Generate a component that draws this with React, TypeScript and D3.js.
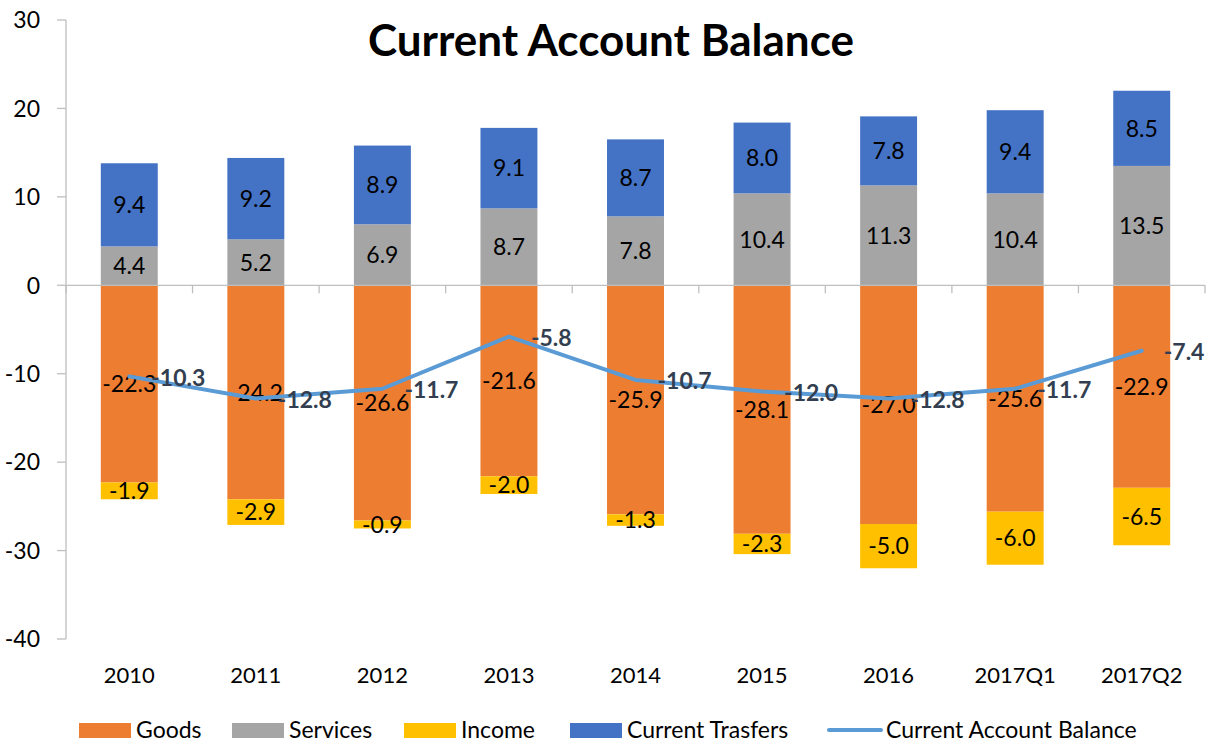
import React from 'react';
import * as d3 from 'd3';

const categories = ['2010', '2011', '2012', '2013', '2014', '2015', '2016', '2017Q1', '2017Q2'];
const goods = [-22.3, -24.2, -26.6, -21.6, -25.9, -28.1, -27.0, -25.6, -22.9];
const services = [4.4, 5.2, 6.9, 8.7, 7.8, 10.4, 11.3, 10.4, 13.5];
const income = [-1.9, -2.9, -0.9, -2.0, -1.3, -2.3, -5.0, -6.0, -6.5];
const transfers = [9.4, 9.2, 8.9, 9.1, 8.7, 8.0, 7.8, 9.4, 8.5];
const balance = [-10.3, -12.8, -11.7, -5.8, -10.7, -12.0, -12.8, -11.7, -7.4];
const yTicks = [-40, -30, -20, -10, 0, 10, 20, 30];

const FONT = 'Lato, "Open Sans", sans-serif';
const width = 1215;
const height = 742;
const margin = { top: 20, right: 10, bottom: 103, left: 66 };

const seriesDefs = [
  { key: 'Goods', values: goods, color: '#ED7D31' },
  { key: 'Services', values: services, color: '#A5A5A5' },
  { key: 'Income', values: income, color: '#FFC000' },
  { key: 'Current Trasfers', values: transfers, color: '#4472C4' },
];

export default function App() {
  const x = d3
    .scaleBand()
    .domain(categories)
    .range([margin.left, width - margin.right])
    .paddingInner(0.55)
    .paddingOuter(0.275);

  const y = d3
    .scaleLinear()
    .domain([-40, 30])
    .range([height - margin.bottom, margin.top]);

  // stack positives upward and negatives downward, in series order
  const segments: any[] = [];
  categories.forEach((c, i) => {
    let pos = 0;
    let neg = 0;
    seriesDefs.forEach(s => {
      const v = s.values[i];
      let y0, y1;
      if (v >= 0) {
        y0 = pos;
        y1 = pos + v;
        pos = y1;
      } else {
        y0 = neg;
        y1 = neg + v;
        neg = y1;
      }
      segments.push({ cat: c, v, y0, y1, color: s.color });
    });
  });

  const bw = x.bandwidth();
  const cx = (c: string) => (x(c) as number) + bw / 2;
  const step = x.step();
  const boundaries = categories.map((c, i) => margin.left + i * step).concat([width - margin.right]);

  const line = d3
    .line<number>()
    .x((d, i) => cx(categories[i]))
    .y(d => y(d));

  const legend = [
    { label: 'Goods', color: '#ED7D31', x: 79, type: 'rect' },
    { label: 'Services', color: '#A5A5A5', x: 232, type: 'rect' },
    { label: 'Income', color: '#FFC000', x: 404, type: 'rect' },
    { label: 'Current Trasfers', color: '#4472C4', x: 570, type: 'rect' },
    { label: 'Current Account Balance', color: '#5B9BD5', x: 829, type: 'line' },
  ];

  return (
    <svg
      width={width}
      height={height}
      style={{ position: 'absolute', left: 0, top: 0, background: '#fff' }}
      fontFamily={FONT}
    >
      {/* y axis */}
      <line x1={margin.left} x2={margin.left} y1={y(30)} y2={y(-40)} stroke="#BFBFBF" strokeWidth={1.3} />
      {yTicks.map(t => (
        <g key={t}>
          <line x1={margin.left - 9} x2={margin.left} y1={y(t)} y2={y(t)} stroke="#BFBFBF" strokeWidth={1.3} />
          <text x={40} y={y(t)} dy="0.36em" textAnchor="end" fontSize={23} fill="#000">
            {t}
          </text>
        </g>
      ))}

      {/* bars */}
      {segments.map((s, i) => (
        <rect
          key={i}
          x={x(s.cat)}
          width={bw}
          y={y(Math.max(s.y0, s.y1))}
          height={Math.abs(y(s.y0) - y(s.y1))}
          fill={s.color}
        />
      ))}

      {/* category axis at zero */}
      <line x1={margin.left} x2={width - margin.right} y1={y(0)} y2={y(0)} stroke="#BFBFBF" strokeWidth={1.3} />
      {boundaries.map((b, i) => (
        <line key={i} x1={b} x2={b} y1={y(0)} y2={y(0) + 8} stroke="#BFBFBF" strokeWidth={1.3} />
      ))}
      {categories.map(c => (
        <text key={c} x={cx(c)} y={675} dy="0.36em" textAnchor="middle" fontSize={22} fill="#000">
          {c}
        </text>
      ))}

      {/* bar labels */}
      {segments.map((s, i) => (
        <text
          key={i}
          x={cx(s.cat)}
          y={y((s.y0 + s.y1) / 2)}
          dy="0.36em"
          textAnchor="middle"
          fontSize={23}
          fill="#000"
        >
          {s.v.toFixed(1)}
        </text>
      ))}

      {/* balance line */}
      <path d={line(balance) as string} fill="none" stroke="#5B9BD5" strokeWidth={4} strokeLinejoin="round" strokeLinecap="round" />
      {balance.map((v, i) => (
        <text
          key={i}
          x={cx(categories[i]) + 22}
          y={y(v)}
          dy="0.4em"
          textAnchor="start"
          fontSize={23}
          fontWeight="bold"
          fill="#333F50"
        >
          {v.toFixed(1)}
        </text>
      ))}

      {/* title */}
      <text x={611} y={56} textAnchor="middle" fontSize={44} fontWeight="bold" fill="#000">
        Current Account Balance
      </text>

      {/* legend */}
      {legend.map(l => (
        <g key={l.label}>
          {l.type === 'rect' ? (
            <rect x={l.x} y={723} width={52} height={15} fill={l.color} />
          ) : (
            <line x1={l.x} x2={l.x + 52} y1={730} y2={730} stroke={l.color} strokeWidth={4} strokeLinecap="round" />
          )}
          <text x={l.x + 57} y={730} dy="0.36em" fontSize={23} fill="#000">
            {l.label}
          </text>
        </g>
      ))}
    </svg>
  );
}
